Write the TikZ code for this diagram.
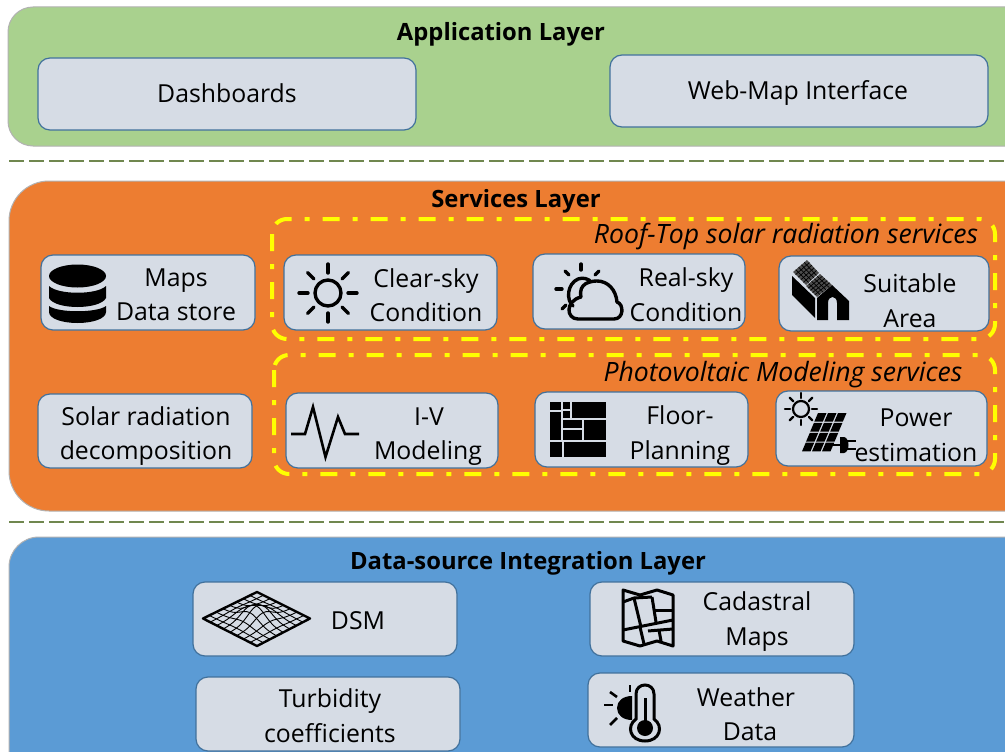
\documentclass[tikz,border=0pt]{standalone}
\usepackage{fontspec}
\setmainfont{Open Sans}
\usetikzlibrary{calc}
\definecolor{appg}{HTML}{A9D18E}
\definecolor{svco}{HTML}{ED7D31}
\definecolor{datab}{HTML}{5B9BD5}
\definecolor{boxf}{HTML}{D6DCE5}
\definecolor{boxd}{HTML}{41719C}
\definecolor{sepg}{HTML}{70874F}
\definecolor{dashy}{HTML}{FFFF00}
\tikzset{
  x=1pt,y=-1pt,
  layer/.style={draw=black!30,line width=1pt},
  cardbox/.style={draw=boxd,fill=boxf,line width=1.2pt,rounded corners=12pt},
  lbl/.style={inner sep=0pt,anchor=center,text height=17pt,text depth=0pt,font=\fontsize{24.8}{25}\selectfont,text=black},
  ttl/.style={inner sep=0pt,anchor=center,text height=17pt,text depth=0pt,font=\fontsize{23.8}{24}\selectfont\bfseries,text=black},
  grp/.style={inner sep=0pt,anchor=center,text height=17pt,text depth=0pt,font=\fontsize{26.6}{27}\selectfont\itshape,text=black},
  sepline/.style={draw=sepg,line width=1.6pt,dash pattern=on 15pt off 5pt},
  grpbox/.style={draw=dashy,line width=4pt,rounded corners=15pt,dash pattern=on 17pt off 13pt on 5pt off 13pt},
  ico/.style={draw=black,line width=3.4pt,line cap=round,line join=round,fill=none},
}
\newcommand{\card}[5]{\draw[cardbox] (#2,#3) rectangle (#4,#5); \coordinate (#1) at (#2,#3);}
\newcommand{\solarpanel}[4]{%
  \fill[black!70] (#1) -- (#2) -- (#3) -- (#4) -- cycle;
  \foreach \t in {0.2,0.4,0.6,0.8}{
    \draw[black,line width=0.7pt] ($(#1)!\t!(#2)$) -- ($(#4)!\t!(#3)$);
    \draw[black,line width=0.7pt] ($(#1)!\t!(#4)$) -- ($(#2)!\t!(#3)$);
  }}
\begin{document}
\begin{tikzpicture}
\useasboundingbox (0,0) rectangle (1005,752);
\clip (0,0) rectangle (1005,752);
\fill[white] (0,0) rectangle (1005,752);
% layers
\draw[layer,fill=appg,rounded corners=25pt] (8,7) rectangle (1030,146);
\draw[layer,fill=svco,rounded corners=40pt] (9,181) rectangle (1045,511);
\draw[layer,fill=datab,rounded corners=30pt] (9,537) rectangle (1040,790);
\draw[sepline] (9,161) -- (1005,161);
\draw[sepline] (9,522) -- (1005,522);
\node[ttl] (tapp) at (501,32) {Application Layer};
\node[ttl] (tsvc) at (516,199) {Services Layer};
\node[ttl] (tdat) at (528,561) {Data-source Integration Layer};
% groups
\draw[grpbox] (272,219) rectangle (995,339);
\draw[grpbox] (274,355) rectangle (995,474);
\node[grp] (groof) at (786,235) {Roof-Top solar radiation services};
\node[grp] (gpv) at (783,373) {Photovoltaic Modeling services};
% cards
\card{c1}{38}{58}{416}{130}
\card{c2}{610}{55}{988}{127}
\card{c3}{41}{255}{255}{330}
\card{c4}{284}{255}{497}{330}
\card{c5}{533}{254}{745}{329}
\card{c6}{779}{256}{989}{331}
\card{c7}{38}{394}{252}{468}
\card{c8}{286}{393}{498}{468}
\card{c9}{535}{392}{748}{467}
\card{c10}{776}{391}{987}{466}
\card{c11}{193}{582}{457}{656}
\card{c12}{590}{582}{854}{656}
\card{c13}{196}{677}{460}{751}
\card{c14}{588}{673}{854}{747}
% labels
\node[lbl] (l1) at (227,94) {Dashboards};
\node[lbl] (l2) at (798,91) {Web-Map Interface};
\node[lbl] (l3a) at (176,278) {Maps};
\node[lbl] (l3b) at (176,312) {Data store};
\node[lbl] (l4a) at (426,279) {Clear-sky};
\node[lbl] (l4b) at (426,313) {Condition};
\node[lbl] (l5a) at (686,278) {Real-sky};
\node[lbl] (l5b) at (686,313) {Condition};
\node[lbl] (l6a) at (910,284) {Suitable};
\node[lbl] (l6b) at (910,319) {Area};
\node[lbl] (l7a) at (146,417) {Solar radiation};
\node[lbl] (l7b) at (146,451) {decomposition};
\node[lbl] (l8a) at (429,417) {I-V};
\node[lbl] (l8b) at (428,451) {Modeling};
\node[lbl] (l9a) at (680,416) {Floor-};
\node[lbl] (l9b) at (680,451) {Planning};
\node[lbl] (l10a) at (916,418) {Power};
\node[lbl] (l10b) at (916,453) {estimation};
\node[lbl] (l11) at (358,621) {DSM};
\node[lbl] (l12a) at (757,602) {Cadastral};
\node[lbl] (l12b) at (757,637) {Maps};
\node[lbl] (l13a) at (330,699) {Turbidity};
\node[lbl] (l13b) at (330,734) {coefficients};
\node[lbl] (l14a) at (746,698) {Weather};
\node[lbl] (l14b) at (750,732) {Data};
% ---- icon: database
\fill[black] (49,306) .. controls (58,313) and (97,313) .. (106,306) -- (106,312) .. controls (106,319) and (92,323) .. (77.5,323) .. controls (63,323) and (49,319) .. (49,312) -- cycle;
\fill[black] (49,286) .. controls (58,295) and (97,295) .. (106,286) -- (106,298) .. controls (100,310) and (55,310) .. (49,298) -- cycle;
\fill[black] (77.5,276) ellipse[x radius=28.5,y radius=11.5];
% ---- icon: clear sky
\begin{scope}[shift={(328,293)}]
\draw[ico] (0,0) circle[radius=13];
\foreach \a in {0,45,...,315}{\draw[ico] (\a:20) -- (\a:29);}
\end{scope}
% ---- icon: real sky
\draw[ico] (581,264) -- (581,270);
\draw[ico] (565,271) -- (569,275);
\draw[ico] (599,271) -- (595,275);
\draw[ico] (556,289) -- (562,289);
\draw[ico] (562,309) -- (566,305);
\draw[ico] (573,306) .. controls (566,300) and (567,284) .. (578,279) .. controls (583,277) and (589,279) .. (591,282);
\draw[ico] (578,319) .. controls (566,319) and (565,301) .. (581,297) .. controls (578,283) and (591,281) .. (597,281) .. controls (608,281) and (616,290) .. (617,302) .. controls (624,304) and (624,319) .. (614,319) -- cycle;
% ---- icon: suitable area house
\fill[black] (792,276) -- (815,298) -- (815,318) -- (792,295) -- cycle;
\fill[black] (817,298) -- (832,285) -- (849,301) -- (849,320) -- (837,320) -- (837,303) .. controls (837,295) and (828,295) .. (828,303) -- (828,320) -- (817,320) -- cycle;
\coordinate (p1) at (793,272); \coordinate (p2) at (807,260); \coordinate (p3) at (819,273); \coordinate (p4) at (806,285);
\solarpanel{p1}{p2}{p3}{p4}
\coordinate (p5) at (806,286); \coordinate (p6) at (820,274); \coordinate (p7) at (832,285); \coordinate (p8) at (817,297);
\solarpanel{p5}{p6}{p7}{p8}
% ---- icon: I-V
\draw[ico,line width=2.6pt,line cap=butt,line join=miter] (291,434) -- (305,434) -- (313,407) -- (325.5,457) -- (338,417) -- (345,434) -- (359,434);
% ---- icon: floor plan
\fill[black] (550,402) rectangle (561,410);
\fill[black] (563,402) rectangle (570,409);
\fill[black] (572,402) rectangle (606,418);
\fill[black] (563,411) rectangle (570,418);
\fill[black] (550,412) rectangle (561,440);
\fill[black] (563,420) rectangle (582,428);
\fill[black] (584,420) rectangle (606,440);
\fill[black] (563,430) rectangle (582,440);
\fill[black] (550,442) rectangle (562,457);
\fill[black] (564,442) rectangle (606,457);
% ---- icon: power
\draw[ico,line width=2.2pt] (801,409) circle[radius=8];
\foreach \a in {0,45,...,315}{\draw[ico,line width=2.2pt] ($(801,409)+(\a:11)$) -- ($(801,409)+(\a:16)$);}
\foreach \r in {0,1,2,3}{\foreach \c in {0,1,2}{
  \pgfmathsetmacro{\xa}{818+\r*(-4.1)+\c*10}
  \pgfmathsetmacro{\ya}{413+\r*9.9}
  \fill[black] (\xa,\ya) -- (\xa+8.5,\ya) -- (\xa+4.8,\ya+8.7) -- (\xa-3.7,\ya+8.7) -- cycle;
}}
\draw[black,line width=2.2pt] (832,445) -- (842,445);
\fill[black] (840,437) -- (844,437) .. controls (850,438) and (850,452) .. (844,453) -- (840,453) -- cycle;
\fill[black] (847,440) rectangle (856,442);
\fill[black] (847,448) rectangle (856,450);
% ---- icon: DSM
\foreach \q in {0.125,0.25,...,0.875}{
  \draw[black,line width=0.9pt] plot[smooth,samples=17,domain=0:1,variable=\t] ({256.5+(\t-\q)*53.5},{619+(\t+\q-1)*27-13*exp(-((\t-0.5)^2+(\q-0.5)^2)*18)});
  \draw[black,line width=0.9pt] plot[smooth,samples=17,domain=0:1,variable=\t] ({256.5+(\q-\t)*53.5},{619+(\t+\q-1)*27-13*exp(-((\t-0.5)^2+(\q-0.5)^2)*18)});
}
\draw[black,line width=2.4pt,line join=round] (203,618.5) -- (257,592) -- (310,618.5) -- (257,646) -- cycle;
% ---- icon: cadastral map
\begin{scope}[line join=round,draw=black,line width=3pt]
\draw (623,590) -- (640,595) -- (657,590) -- (673,595) -- (673,646) -- (657,641) -- (640,646) -- (623,641) -- cycle;
\draw (634,598) -- (641,627);
\draw (623,630) -- (673,620);
\draw (652,597) -- (656,622);
\draw (655,610) -- (673,610);
\draw (623,602) -- (634,598) -- (652,597);
\draw (640,627) -- (644,644);
\draw (648,631) -- (673,629);
\draw (659,630) -- (661,641);
\end{scope}
% ---- icon: weather
\fill[black] (632,696) .. controls (623,696) and (617,701) .. (617,708) .. controls (617,715) and (623,720) .. (632,720) -- cycle;
\draw[ico,line width=2.6pt,line cap=butt] (630,685) -- (630,692);
\draw[ico,line width=2.6pt,line cap=butt] (610,692) -- (617,697);
\draw[ico,line width=2.6pt,line cap=butt] (604,705) -- (613,705);
\draw[ico,line width=2.6pt,line cap=butt] (610,725) -- (617,718);
\draw[black,line width=3pt,fill=boxf] (636,719) -- (636,694) .. controls (636,682) and (654,682) .. (654,694) -- (654,719) .. controls (664,726) and (660,741) .. (645,741) .. controls (630,741) and (626,726) .. (636,719) -- cycle;
\fill[black] (645,728) circle[radius=8];
\draw[black,line width=3pt] (645,698) -- (645,725);
\end{tikzpicture}
\end{document}
